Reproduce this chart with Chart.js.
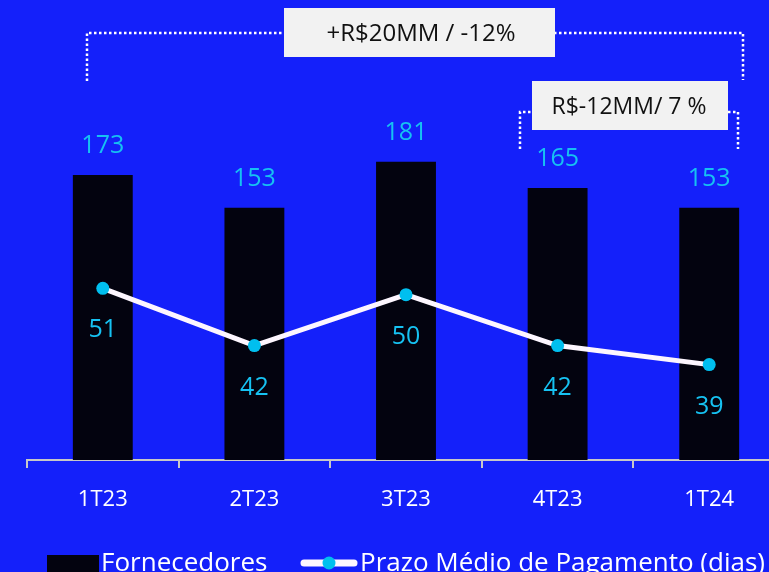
<!DOCTYPE html>
<html>
<head>
<meta charset="utf-8">
<script src="https://cdn.jsdelivr.net/npm/chart.js@4.4.1/dist/chart.umd.min.js"></script>
<style>
  html, body { margin: 0; padding: 0; background: #1420fa; overflow: hidden; }
  #wrap { position: relative; width: 800px; height: 572px; }
</style>
</head>
<body>
<div id="wrap"><canvas id="grafico"></canvas></div>
<script>
const categorias = ["1T23", "2T23", "3T23", "4T23", "1T24"];
const fornecedores = [173, 153, 181, 165, 153];
const prazoMedio = [51, 42, 50, 42, 39];

const FONTE = "'Open Sans', 'Lato', sans-serif";
const CIANO = "#16c2f2";

// rotulos, colchetes pontilhados e legenda desenhados a mao
const extras = {
  id: "extras",
  afterDatasetsDraw(chart) {
    const ctx = chart.ctx;
    ctx.save();
    ctx.fillStyle = CIANO;
    ctx.font = "25px " + FONTE;
    ctx.textAlign = "center";
    ctx.textBaseline = "middle";
    chart.getDatasetMeta(1).data.forEach((bar, i) => {
      ctx.fillText(String(fornecedores[i]), bar.x, bar.y - 29);
    });
    chart.getDatasetMeta(0).data.forEach((pt, i) => {
      ctx.fillText(String(prazoMedio[i]), pt.x, pt.y + 42);
    });

    // colchetes
    ctx.strokeStyle = "#ffffff";
    ctx.lineWidth = 2.5;
    ctx.setLineDash([2.5, 2.5]);
    ctx.beginPath();
    ctx.moveTo(87, 81); ctx.lineTo(87, 33); ctx.lineTo(743, 33); ctx.lineTo(743, 80);
    ctx.moveTo(520, 149); ctx.lineTo(520, 112); ctx.lineTo(738, 112); ctx.lineTo(738, 149);
    ctx.stroke();
    ctx.setLineDash([]);

    // caixas
    ctx.fillStyle = "#f2f2f2";
    ctx.fillRect(284, 8, 271, 49);
    ctx.fillRect(532, 81, 196, 49);
    ctx.fillStyle = "#111111";
    ctx.font = "24px " + FONTE;
    ctx.fillText("+R$20MM / -12%", 421, 34);
    ctx.font = "23px " + FONTE;
    ctx.fillText("R$-12MM/ 7 %", 629, 107);

    // legenda
    ctx.fillStyle = "#03030f";
    ctx.fillRect(47, 555, 52, 20);
    ctx.fillStyle = "#ffffff";
    ctx.font = "26px " + FONTE;
    ctx.textAlign = "left";
    ctx.fillText("Fornecedores", 101, 564);
    ctx.strokeStyle = "#fdf6ff";
    ctx.lineWidth = 7;
    ctx.lineCap = "round";
    ctx.beginPath();
    ctx.moveTo(304, 563); ctx.lineTo(354, 563);
    ctx.stroke();
    ctx.fillStyle = "#00bfef";
    ctx.beginPath();
    ctx.arc(329, 563, 6.5, 0, Math.PI * 2);
    ctx.fill();
    ctx.fillStyle = "#ffffff";
    ctx.fillText("Prazo Médio de Pagamento (dias)", 360, 564);
    ctx.restore();
  }
};

new Chart(document.getElementById("grafico"), {
  data: {
    labels: categorias,
    datasets: [
      {
        type: "line",
        label: "Prazo Médio de Pagamento (dias)",
        data: prazoMedio,
        yAxisID: "y2",
        borderColor: "#fdf6ff",
        borderWidth: 5,
        pointRadius: 6.5,
        pointBackgroundColor: "#00bfef",
        pointBorderWidth: 0,
        tension: 0,
        order: 0,
      },
      {
        type: "bar",
        label: "Fornecedores",
        data: fornecedores,
        yAxisID: "y",
        backgroundColor: "#03030f",
        categoryPercentage: 1,
        barPercentage: 0.395,
        order: 1,
      },
    ],
  },
  options: {
    responsive: true,
    maintainAspectRatio: false,
    animation: false,
    layout: { padding: { left: 27, right: 15, top: 20, bottom: 0 } },
    plugins: { legend: { display: false }, tooltip: { enabled: false } },
    scales: {
      x: {
        offset: true,
        grid: { display: true, drawOnChartArea: false, drawTicks: true, tickLength: 8, color: "#c8c8c8", lineWidth: 2, offset: true },
        border: { display: true, color: "#c8c8c8", width: 2 },
        ticks: { color: "#ffffff", font: { family: FONTE, size: 22 }, padding: 19 },
        afterFit(scale) { scale.height = 112; },
      },
      y: { display: false, min: 0, max: 267 },
      y2: { display: false, min: 24, max: 93.2 },
    },
  },
  plugins: [extras],
});
</script>
</body>
</html>
